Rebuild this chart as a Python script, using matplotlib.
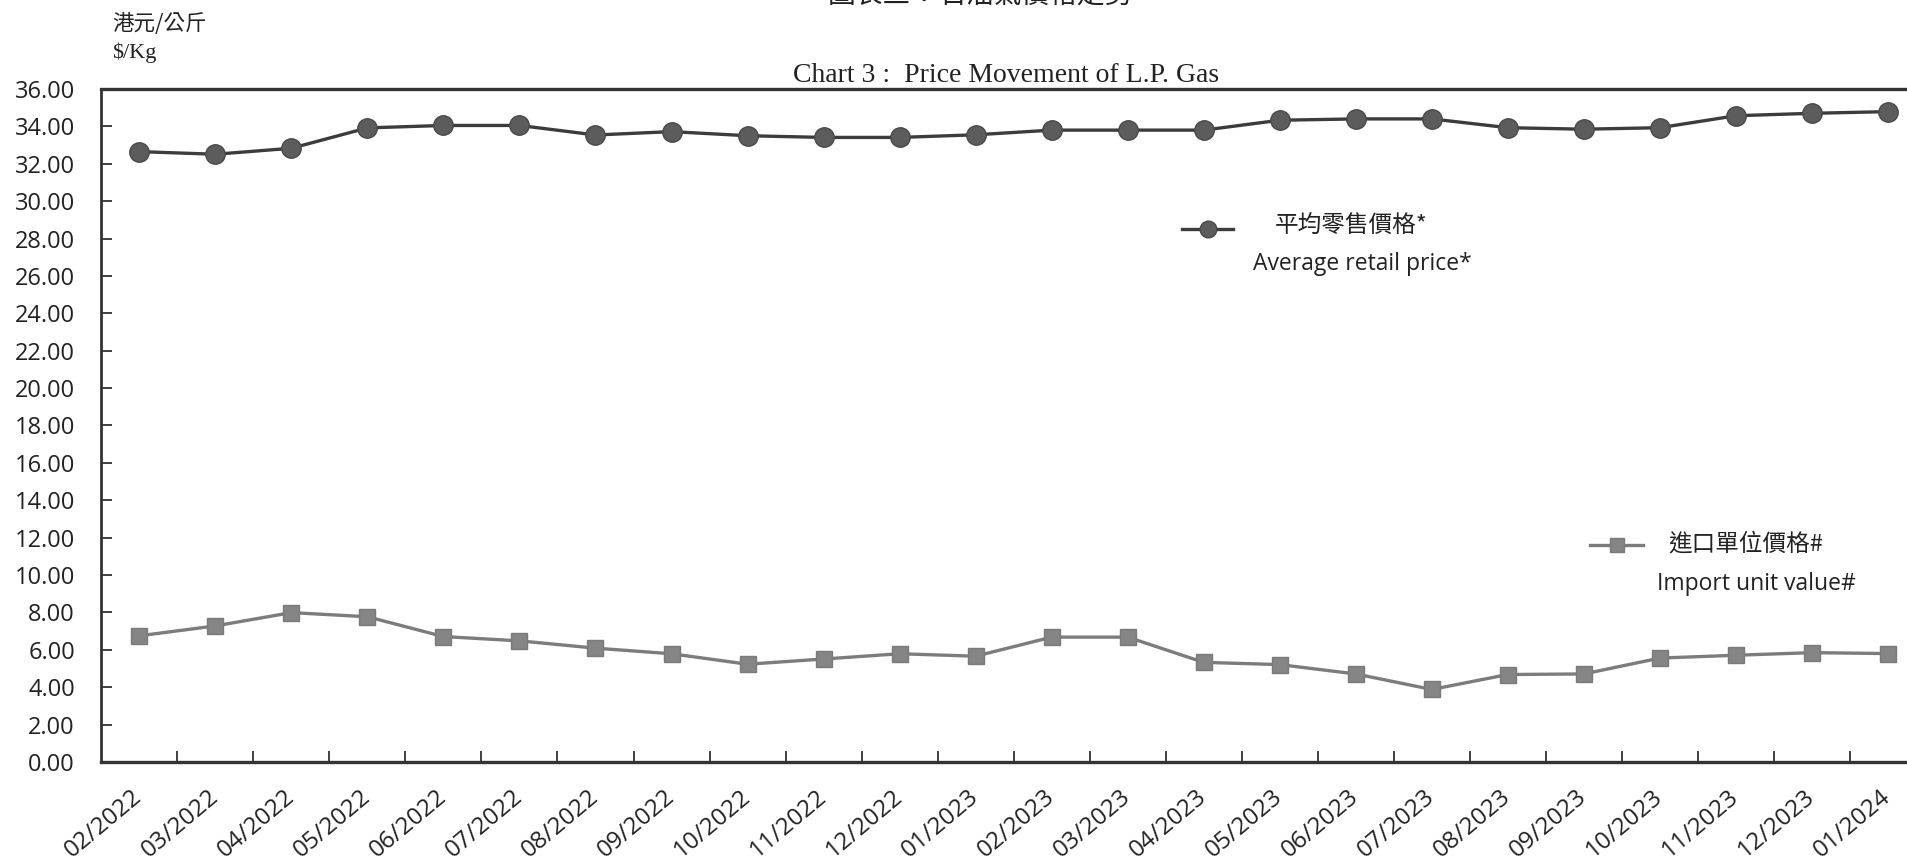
import numpy as np
import matplotlib.pyplot as plt

# months shown on the category axis
months = ['02/2022', '03/2022', '04/2022', '05/2022', '06/2022', '07/2022',
          '08/2022', '09/2022', '10/2022', '11/2022', '12/2022', '01/2023',
          '02/2023', '03/2023', '04/2023', '05/2023', '06/2023', '07/2023',
          '08/2023', '09/2023', '10/2023', '11/2023', '12/2023', '01/2024']

# average retail price ($/Kg)
retail = [32.65, 32.51, 32.83, 33.92, 34.05, 34.05, 33.54, 33.72, 33.50, 33.41,
          33.41, 33.55, 33.80, 33.80, 33.80, 34.33, 34.40, 34.40, 33.93, 33.85,
          33.93, 34.57, 34.70, 34.79]

# import unit value ($/Kg)
imports = [6.75, 7.28, 7.99, 7.77, 6.71, 6.48, 6.09, 5.79, 5.23, 5.51, 5.79, 5.66,
           6.68, 6.68, 5.33, 5.21, 4.71, 3.88, 4.68, 4.71, 5.56, 5.71, 5.85, 5.80]

yticks = np.arange(0, 36.01, 2)

W, H = 1908, 864
fig = plt.figure(figsize=(W/100, H/100), dpi=100)
# axes runs past the right edge, as in the cropped scan
ax = fig.add_axes([101.3/W, (H-762)/H, (1926-101.3)/W, (762-89)/H])

x = np.arange(len(months))
ax.plot(x, retail, color='#3c3c3c', lw=2.4, marker='o', ms=14,
        mfc='#5c5c5c', mec='#4a4a4a', zorder=3)
ax.plot(x, imports, color='#7c7c7c', lw=2.4, marker='s', ms=11.5,
        mfc='#858585', mec='#7a7a7a', zorder=3)

ax.set_xlim(-0.5, len(months)-0.5)
ax.set_ylim(0, 36)
ax.set_yticks(yticks)
ax.set_yticklabels(['%.2f' % v for v in yticks], fontfamily='Open Sans', fontsize=17)
ax.set_xticks(x)
ax.set_xticklabels(months, fontfamily='Open Sans', fontsize=17.5, rotation=40,
                   ha='right', va='center', rotation_mode='anchor')
ax.set_xticks(x[:-1]+0.5, minor=True)
ax.tick_params(axis='x', which='major', length=0, pad=23, colors='#222222')
ax.tick_params(axis='x', which='minor', direction='in', length=8, width=1.3, color='#333333')
ax.tick_params(axis='y', direction='in', length=8, width=1.3, color='#333333',
               pad=19, labelcolor='#222222')

for s in ['left', 'bottom', 'top']:
    ax.spines[s].set_color('#333333')
ax.spines['left'].set_linewidth(2.0)
ax.spines['bottom'].set_linewidth(2.4)
ax.spines['top'].set_linewidth(2.4)
ax.spines['right'].set_visible(False)

def px(xp, yp):
    return xp/W, 1-yp/H

# titles and unit
fig.text(*px(980, 10), '圖表三：石油氣價格走勢', family=['Noto Sans CJK TC', 'DejaVu Sans'],
         fontsize=20, ha='center', va='bottom', color='#222222')
fig.text(*px(1006, 75), 'Chart 3 :  Price Movement of L.P. Gas', family='Liberation Serif',
         fontsize=20, ha='center', va='center', color='#222222')
fig.text(*px(112, 24), '港元/公斤', family=['Noto Sans CJK TC', 'DejaVu Sans'],
         fontsize=15.5, ha='left', va='center', color='#222222')
fig.text(*px(112, 53), '$/Kg', family='Liberation Serif',
         fontsize=16, ha='left', va='center', color='#222222')

# legend entries placed beside the lines
fig.add_artist(plt.Line2D([1182/W, 1233/W], [1-229/H, 1-229/H], color='#3c3c3c', lw=2.4))
fig.add_artist(plt.Line2D([1208/W], [1-229/H], marker='o', ms=12, mfc='#5c5c5c', mec='#4a4a4a'))
fig.text(*px(1275, 226), '平均零售價格*', family=['Noto Sans CJK TC', 'DejaVu Sans'],
         fontsize=17, ha='left', va='center', color='#222222')
fig.text(*px(1253, 264), 'Average retail price*', family='Open Sans',
         fontsize=16.5, ha='left', va='center', color='#222222')

fig.add_artist(plt.Line2D([1590/W, 1643/W], [1-545/H, 1-545/H], color='#7c7c7c', lw=2.4))
fig.add_artist(plt.Line2D([1617/W], [1-545/H], marker='s', ms=10, mfc='#858585', mec='#7a7a7a'))
fig.text(*px(1668, 544), '進口單位價格#', family=['Noto Sans CJK TC', 'DejaVu Sans'],
         fontsize=17, ha='left', va='center', color='#222222')
fig.text(*px(1657, 584), 'Import unit value#', family='Open Sans',
         fontsize=16.5, ha='left', va='center', color='#222222')

fig.savefig('out.png', dpi=100)
